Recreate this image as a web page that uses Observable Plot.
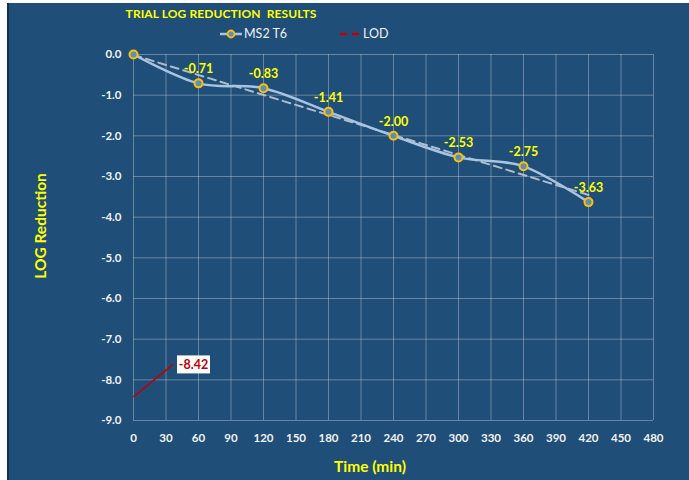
<!DOCTYPE html>
<html>
<head>
<meta charset="utf-8">
<script src="https://cdn.jsdelivr.net/npm/d3@7"></script>
<script src="https://cdn.jsdelivr.net/npm/@observablehq/plot@0.6"></script>
<style>
  html, body { margin: 0; padding: 0; background: #ffffff; }
  #wrap { position: relative; width: 689px; height: 480px; overflow: hidden; font-family: Lato, "Open Sans", sans-serif; }
  #panel { position: absolute; left: 7px; top: 3px; right: 0; bottom: 0; background: #1F4E79; border-left: 2px solid #10304f; }
  #chart { position: absolute; left: 0; top: 0; }
  .title { position: absolute; left: 121px; top: 6px; width: 200px; text-align: center; color: #FFFF00; font-weight: bold; font-size: 12px; letter-spacing: 0.1px; white-space: nowrap; }
  .legend { position: absolute; top: 26px; color: #F2F2F2; font-size: 12.5px; display: flex; align-items: center; white-space: nowrap; }
  .ytitle { position: absolute; left: 40px; top: 226px; transform: translate(-50%, -50%) rotate(-90deg); color: #FFFF00; font-weight: bold; font-size: 15.5px; white-space: nowrap; }
  .xtitle { position: absolute; left: 370px; top: 466px; transform: translate(-50%, -50%); color: #FFFF00; font-weight: bold; font-size: 15.5px; white-space: nowrap; }
</style>
</head>
<body>
<div id="wrap">
  <div id="panel"></div>
  <div id="chart"></div>
  <div class="title">TRIAL LOG REDUCTION&nbsp; RESULTS</div>
  <div class="legend" style="left:219px;">
    <svg width="24" height="12" style="margin-right:1px"><line x1="1" y1="6" x2="23" y2="6" stroke="#A9C4E0" stroke-width="2.5"/><circle cx="12" cy="6" r="3.5" fill="#5B8DBF" stroke="#FFC000" stroke-width="1.8"/></svg>
    <span>MS2 T6</span>
  </div>
  <div class="legend" style="left:339px;">
    <svg width="22" height="12" style="margin-right:2px"><line x1="1" y1="6" x2="21" y2="6" stroke="#C00000" stroke-width="2.5" stroke-dasharray="7,5"/></svg>
    <span>LOD</span>
  </div>
  <div class="ytitle">LOG Reduction</div>
  <div class="xtitle">Time (min)</div>
</div>
<script>
// Data
const times = [0, 60, 120, 180, 240, 300, 360, 420];
const ms2T6 = [0, -0.71, -0.83, -1.41, -2.00, -2.53, -2.75, -3.63];
const lodTimes = [0];
const lodValues = [-8.42];
const xTicks = [0, 30, 60, 90, 120, 150, 180, 210, 240, 270, 300, 330, 360, 390, 420, 450, 480];
const yTicks = [0, -1, -2, -3, -4, -5, -6, -7, -8, -9];

const series = times.map((t, i) => ({time: t, value: ms2T6[i]}));
const lod = lodTimes.map((t, i) => ({time: t, value: lodValues[i]}));

const plot = Plot.plot({
  width: 689,
  height: 480,
  marginLeft: 133,
  marginRight: 36,
  marginTop: 54,
  marginBottom: 60,
  style: {background: "transparent", color: "#F2F2F2", fontFamily: "Lato, 'Open Sans', sans-serif", fontSize: "11.5px", fontWeight: "bold"},
  x: {domain: [0, 480], ticks: xTicks, label: null},
  y: {domain: [-9, 0], ticks: yTicks, label: null},
  marks: [
    Plot.gridX(xTicks, {stroke: "#D9D9D9", strokeOpacity: 0.4, strokeWidth: 1}),
    Plot.gridY(yTicks, {stroke: "#D9D9D9", strokeOpacity: 0.4, strokeWidth: 1}),
    Plot.axisX(xTicks, {tickSize: 0, tickPadding: 13, label: null, fill: "#F2F2F2", fontWeight: "bold", fontSize: 11.5}),
    Plot.axisY(yTicks, {tickSize: 0, tickPadding: 12, label: null, tickFormat: d => d.toFixed(1), fill: "#F2F2F2", fontWeight: "bold", fontSize: 11.5}),
    Plot.linearRegressionY(series, {x: "time", y: "value", ci: 0, stroke: "#AEBCCB", strokeWidth: 2, strokeDasharray: "8,5"}),
    Plot.line(series, {x: "time", y: "value", curve: "cardinal", stroke: "#A9C4E0", strokeWidth: 2.5}),
    Plot.dot(series, {x: "time", y: "value", r: 4, fill: "#5B8DBF", stroke: "#FFC000", strokeWidth: 2}),
    Plot.text(series.filter(d => d.value !== 0), {x: "time", y: "value", text: d => d.value.toFixed(2), dy: -14, fill: "#FFFF00", fontSize: 12.5, fontWeight: "bold"}),
    Plot.link(lod, {x1: "time", y1: "value", x2: d => d.time + 36.5, y2: d => d.value + 0.8, stroke: "#C00000", strokeWidth: 1.5}),
    Plot.text(lod, {x: "time", y: "value", text: d => d.value.toFixed(2), dx: 60, dy: -32, fill: "#C00000", fontSize: 12.5, fontWeight: "bold"})
  ]
});
document.getElementById("chart").appendChild(plot);

// white box behind the LOD data label (same transform as the text)
const lodText = lodValues[0].toFixed(2);
d3.select(plot).selectAll("text").filter(function() { return this.textContent === lodText; }).each(function() {
  const b = this.getBBox();
  const w = 33, h = 18;
  const cx = b.x + b.width / 2, cy = b.y + b.height / 2;
  const rect = d3.select(this.parentNode).insert("rect", () => this)
    .attr("x", cx - w / 2).attr("y", cy - h / 2)
    .attr("width", w).attr("height", h)
    .attr("fill", "#ffffff").attr("stroke", "none");
  const tr = this.getAttribute("transform");
  if (tr) rect.attr("transform", tr);
});
</script>
</body>
</html>
